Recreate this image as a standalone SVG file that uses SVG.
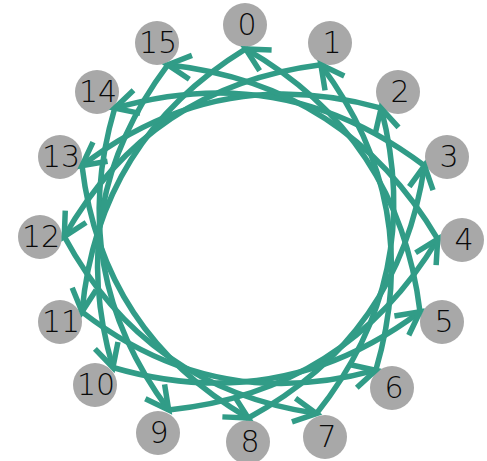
<svg xmlns="http://www.w3.org/2000/svg" width="487" height="461" viewBox="0 0 487 461">
<defs>
<style>
.n circle{fill:#a8a8a8}
.n text{font-family:"DejaVu Sans",sans-serif;font-weight:300;font-size:30px;fill:#0a0a0a;text-anchor:middle;dominant-baseline:central}
.e path{fill:none;stroke:#319c87;stroke-width:5.5;marker-end:url(#ah)}
</style>
<marker id="ah" markerUnits="userSpaceOnUse" markerWidth="40" markerHeight="40" viewBox="-30 -20 40 40" refX="0" refY="0" orient="auto" overflow="visible">
<path d="M-23,-12 L0,0 L-23,12" fill="none" stroke="#319c87" stroke-width="5.5" stroke-linejoin="miter"/>
</marker>
</defs>
<rect width="487" height="461" fill="#fff"/>
<g id="node0" class="n"><circle cx="245" cy="25" r="22"/><text x="247" y="24">0</text></g>
<g id="node1" class="n"><circle cx="330" cy="43" r="22"/><text x="332" y="42">1</text></g>
<g id="node2" class="n"><circle cx="398" cy="92" r="22"/><text x="400" y="91">2</text></g>
<g id="node3" class="n"><circle cx="447" cy="157" r="22"/><text x="449" y="156">3</text></g>
<g id="node4" class="n"><circle cx="462" cy="240" r="22"/><text x="464" y="239">4</text></g>
<g id="node5" class="n"><circle cx="442" cy="322" r="22"/><text x="444" y="321">5</text></g>
<g id="node6" class="n"><circle cx="392" cy="388" r="22"/><text x="394" y="387">6</text></g>
<g id="node7" class="n"><circle cx="325" cy="437" r="22"/><text x="327" y="436">7</text></g>
<g id="node8" class="n"><circle cx="248" cy="442" r="22"/><text x="250" y="441">8</text></g>
<g id="node9" class="n"><circle cx="158" cy="433" r="22"/><text x="159" y="432">9</text></g>
<g id="node10" class="n"><circle cx="95" cy="385" r="22"/><text x="96" y="384">10</text></g>
<g id="node11" class="n"><circle cx="60" cy="322" r="22"/><text x="61" y="321">11</text></g>
<g id="node12" class="n"><circle cx="40" cy="237" r="22"/><text x="41" y="236">12</text></g>
<g id="node13" class="n"><circle cx="60" cy="157" r="22"/><text x="61" y="156">13</text></g>
<g id="node14" class="n"><circle cx="97" cy="92" r="22"/><text x="98" y="91">14</text></g>
<g id="node15" class="n"><circle cx="157" cy="43" r="22"/><text x="158" y="42">15</text></g>
<g id="edges" class="e">
<path d="M245.7,48.9 Q98.1,139.4 82,311.8"/>
<path d="M320.9,64.8 Q149.7,86.5 64.3,236.5"/>
<path d="M381.1,108.2 Q217.2,62.2 82,165.7"/>
<path d="M424.5,165.7 Q284,59.5 114.7,108.2"/>
<path d="M437.7,239.2 Q346.4,84.5 167.8,64.8"/>
<path d="M420,311.8 Q398.6,136.8 245.7,48.9"/>
<path d="M375.8,370.2 Q424.7,203.8 320.9,64.8"/>
<path d="M316.5,413.5 Q425.1,277 381.1,108.2"/>
<path d="M248.3,418 Q399.5,335.9 424.5,165.7"/>
<path d="M168.7,410 Q345.9,391.85 437.7,239.2"/>
<path d="M112.9,367.5 Q280.4,416.4 420,311.8"/>
<path d="M82,311.8 Q214.3,414.45 375.8,370.2"/>
<path d="M64.3,236.5 Q146.15,388.05 316.5,413.5"/>
<path d="M82,165.7 Q102.05,333.45 248.3,418"/>
<path d="M114.7,108.2 Q66.25,272.6 168.7,410"/>
<path d="M167.8,64.8 Q64.65,202.45 112.9,367.5"/>
</g>
</svg>
